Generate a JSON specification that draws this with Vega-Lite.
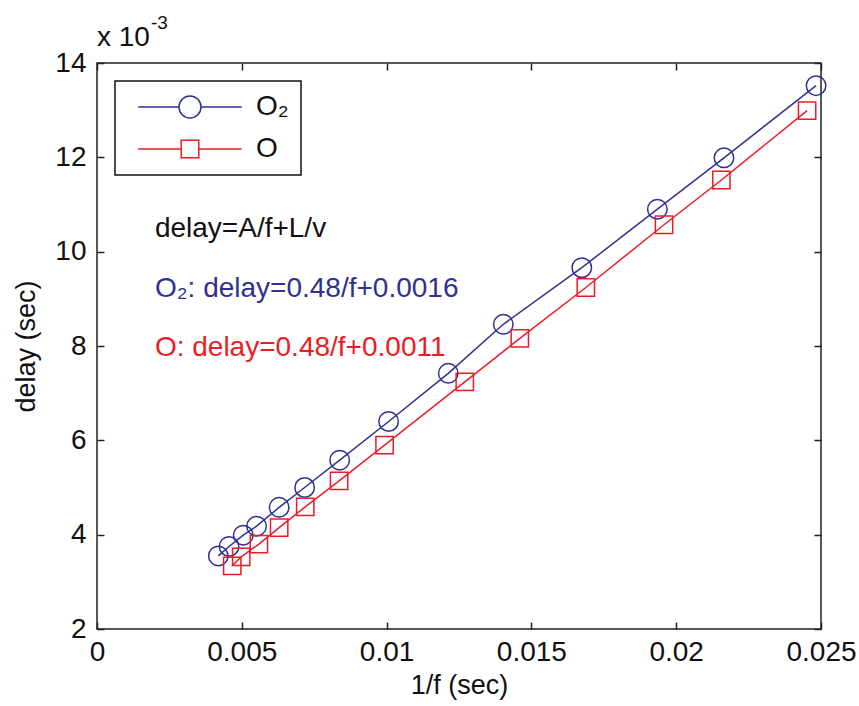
{
  "$schema": "https://vega.github.io/schema/vega-lite/v6.json",
  "width": 724,
  "height": 566,
  "autosize": {"type": "none"},
  "padding": {"left": 97, "top": 63, "right": 38, "bottom": 77},
  "background": "white",
  "config": {
    "font": "Liberation Sans",
    "view": {"stroke": "#222222", "strokeWidth": 1.5},
    "axis": {"grid": false, "domain": false, "labelFlush": false, "labelFont": "Liberation Sans", "labelFontSize": 28, "labelColor": "#111111", "titleFont": "Liberation Sans", "titleFontSize": 27, "titleFontWeight": "normal", "titleColor": "#111111", "tickColor": "#222222", "tickWidth": 1.5},
    "legend": {"strokeWidth": 1.5}
  },
  "data": {"values": [
    {"f": 0.00419, "delay": 0.00355, "series": "O2"},
    {"f": 0.00456, "delay": 0.00375, "series": "O2"},
    {"f": 0.00505, "delay": 0.00399, "series": "O2"},
    {"f": 0.00551, "delay": 0.00418, "series": "O2"},
    {"f": 0.00629, "delay": 0.00458, "series": "O2"},
    {"f": 0.00717, "delay": 0.00500, "series": "O2"},
    {"f": 0.00838, "delay": 0.00558, "series": "O2"},
    {"f": 0.01007, "delay": 0.00640, "series": "O2"},
    {"f": 0.01213, "delay": 0.00742, "series": "O2"},
    {"f": 0.01403, "delay": 0.00846, "series": "O2"},
    {"f": 0.01674, "delay": 0.00966, "series": "O2"},
    {"f": 0.01935, "delay": 0.01090, "series": "O2"},
    {"f": 0.02165, "delay": 0.01199, "series": "O2"},
    {"f": 0.02483, "delay": 0.01352, "series": "O2"},
    {"f": 0.00467, "delay": 0.00334, "series": "O"},
    {"f": 0.00498, "delay": 0.00353, "series": "O"},
    {"f": 0.00559, "delay": 0.00380, "series": "O"},
    {"f": 0.00629, "delay": 0.00415, "series": "O"},
    {"f": 0.00719, "delay": 0.00459, "series": "O"},
    {"f": 0.00836, "delay": 0.00514, "series": "O"},
    {"f": 0.00993, "delay": 0.00590, "series": "O"},
    {"f": 0.01270, "delay": 0.00724, "series": "O"},
    {"f": 0.01460, "delay": 0.00816, "series": "O"},
    {"f": 0.01688, "delay": 0.00924, "series": "O"},
    {"f": 0.01958, "delay": 0.01057, "series": "O"},
    {"f": 0.02156, "delay": 0.01152, "series": "O"},
    {"f": 0.02452, "delay": 0.01299, "series": "O"}
  ]},
  "layer": [
    {
      "mark": {"type": "line", "strokeWidth": 1.5},
      "encoding": {
        "x": {"field": "f", "type": "quantitative", "scale": {"domain": [0, 0.025], "nice": false, "zero": false},
              "axis": {"orient": "bottom", "values": [0, 0.005, 0.01, 0.015, 0.02, 0.025], "format": "~g", "ticks": false, "tickSize": 0, "labelPadding": 9, "title": "1/f (sec)", "titlePadding": 6}},
        "y": {"field": "delay", "type": "quantitative", "scale": {"domain": [0.002, 0.014], "nice": false, "zero": false},
              "axis": {"orient": "left", "values": [0.002, 0.004, 0.006, 0.008, 0.01, 0.012, 0.014], "labelExpr": "format(datum.value*1000, '~g')", "ticks": false, "tickSize": 0, "labelPadding": 11, "title": "delay (sec)", "titlePadding": 14}},
        "color": {"field": "series", "type": "nominal", "scale": {"domain": ["O2", "O"], "range": ["#2e3192", "#ed1c24"]}, "legend": null}
      }
    },
    {
      "mark": {"type": "point", "filled": false, "strokeWidth": 1.5, "opacity": 1},
      "encoding": {
        "x": {"field": "f", "type": "quantitative", "axis": {"orient": "top", "values": [0, 0.005, 0.01, 0.015, 0.02, 0.025], "labels": false, "tickSize": -7, "title": null}},
        "y": {"field": "delay", "type": "quantitative", "axis": {"orient": "right", "values": [0.002, 0.004, 0.006, 0.008, 0.01, 0.012, 0.014], "labels": false, "tickSize": -7, "title": null}},
        "color": {"field": "series", "type": "nominal", "scale": {"domain": ["O2", "O"], "range": ["#2e3192", "#ed1c24"]}, "legend": null},
        "shape": {"field": "series", "type": "nominal", "scale": {"domain": ["O2", "O"], "range": ["circle", "square"]}, "legend": null},
        "size": {"field": "series", "type": "nominal", "scale": {"domain": ["O2", "O"], "range": [380, 300]}, "legend": null}
      }
    },
    {
      "mark": {"type": "point", "filled": false, "strokeWidth": 1.5, "opacity": 0},
      "encoding": {
        "x": {"field": "f", "type": "quantitative", "axis": {"orient": "bottom", "values": [0, 0.005, 0.01, 0.015, 0.02, 0.025], "labels": false, "tickSize": -7, "title": null}},
        "y": {"field": "delay", "type": "quantitative", "axis": {"orient": "left", "values": [0.002, 0.004, 0.006, 0.008, 0.01, 0.012, 0.014], "labels": false, "tickSize": -7, "title": null}},
        "color": {"field": "series", "type": "nominal", "scale": {"domain": ["O2", "O"], "range": ["#2e3192", "#ed1c24"]},
                  "legend": {"orient": "top-left", "offset": 18, "title": null, "padding": 12, "rowPadding": 14, "symbolSize": 484, "symbolStrokeWidth": 1.5, "symbolOffset": 49, "labelOffset": 52, "labelFontSize": 28, "labelFont": "Liberation Sans", "labelColor": "#111111", "strokeColor": "#111111", "fillColor": "white", "symbolOpacity": 1, "symbolFillColor": "transparent", "labelExpr": "datum.label == 'O2' ? 'O₂' : datum.label"}},
        "shape": {"field": "series", "type": "nominal", "scale": {"domain": ["O2", "O"], "range": ["M-4.7,0L-1,0M1,0L4.7,0M-1,0A1,1 0 1,0 1,0A1,1 0 1,0 -1,0", "M-4.7,0L-0.8,0M0.8,0L4.7,0M-0.8,-0.8L0.8,-0.8L0.8,0.8L-0.8,0.8Z"]}}
      }
    },
    {
      "data": {"values": [{"label": "delay=A/f+L/v"}]},
      "mark": {"type": "text", "align": "left", "baseline": "middle", "fontSize": 28, "color": "#111111"},
      "encoding": {"x": {"datum": 0.002, "type": "quantitative", "axis": null}, "y": {"datum": 0.01048, "type": "quantitative", "axis": null}, "text": {"field": "label"}}
    },
    {
      "data": {"values": [{"label": "O₂: delay=0.48/f+0.0016"}]},
      "mark": {"type": "text", "align": "left", "baseline": "middle", "fontSize": 28, "color": "#2e3192"},
      "encoding": {"x": {"datum": 0.002, "type": "quantitative", "axis": null}, "y": {"datum": 0.00921, "type": "quantitative", "axis": null}, "text": {"field": "label"}}
    },
    {
      "data": {"values": [{"label": "O: delay=0.48/f+0.0011"}]},
      "mark": {"type": "text", "align": "left", "baseline": "middle", "fontSize": 28, "color": "#ed1c24"},
      "encoding": {"x": {"datum": 0.002, "type": "quantitative", "axis": null}, "y": {"datum": 0.00796, "type": "quantitative", "axis": null}, "text": {"field": "label"}}
    },
    {
      "data": {"values": [{"label": "x 10"}]},
      "mark": {"type": "text", "align": "left", "baseline": "middle", "fontSize": 28, "color": "#111111", "dy": -25, "clip": false},
      "encoding": {"x": {"datum": 0, "type": "quantitative", "axis": null}, "y": {"datum": 0.014, "type": "quantitative", "axis": null}, "text": {"field": "label"}}
    },
    {
      "data": {"values": [{"label": "-3"}]},
      "mark": {"type": "text", "align": "left", "baseline": "middle", "fontSize": 19, "color": "#111111", "dx": 54, "dy": -40, "clip": false},
      "encoding": {"x": {"datum": 0, "type": "quantitative", "axis": null}, "y": {"datum": 0.014, "type": "quantitative", "axis": null}, "text": {"field": "label"}}
    }
  ],
  "resolve": {"scale": {"shape": "independent", "color": "independent", "size": "independent"}, "axis": {"x": "independent", "y": "independent"}}
}
